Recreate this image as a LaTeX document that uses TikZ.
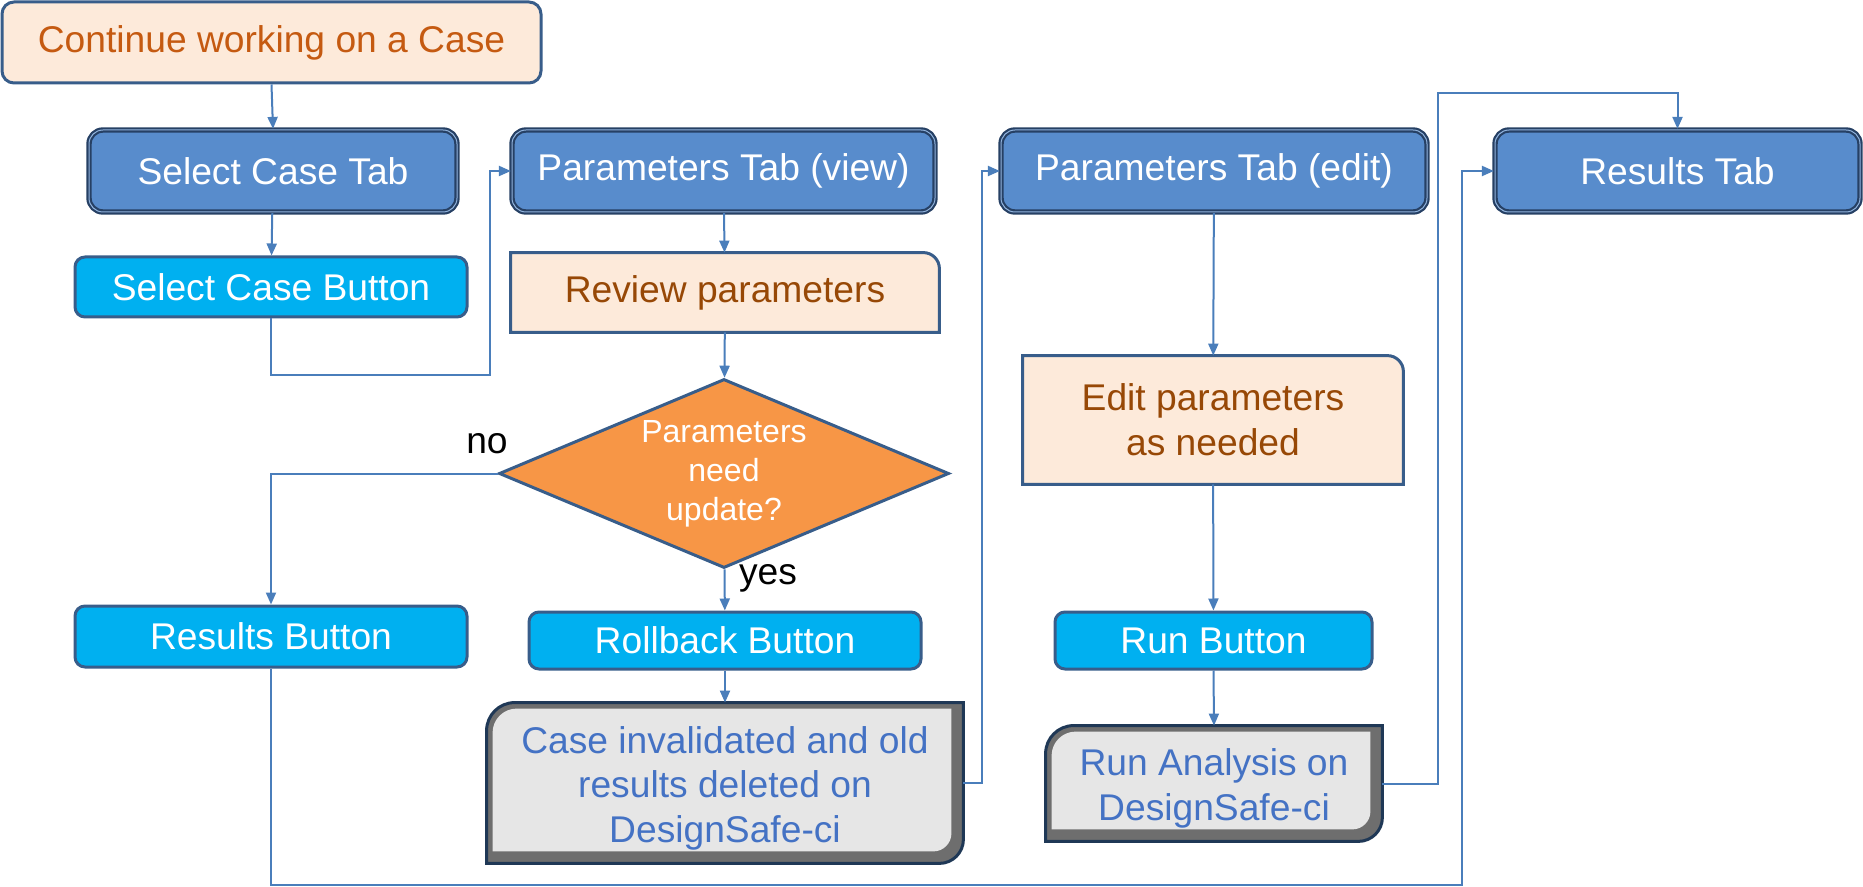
\documentclass[tikz,border=0pt]{standalone}
\usepackage{fontspec}
\setmainfont{Liberation Sans}
\usetikzlibrary{shapes.geometric,arrows.meta,backgrounds}

\definecolor{edgeblue}{RGB}{56,93,138}
\definecolor{linkblue}{RGB}{74,126,187}
\definecolor{tabfill}{RGB}{88,140,204}
\definecolor{tabdark}{RGB}{38,64,100}
\definecolor{btnfill}{RGB}{0,176,240}
\definecolor{peach}{RGB}{253,234,218}
\definecolor{rust}{RGB}{197,90,17}
\definecolor{brownish}{RGB}{151,72,6}
\definecolor{decfill}{RGB}{247,150,70}
\definecolor{srvface}{RGB}{230,230,230}
\definecolor{srvside}{RGB}{110,110,110}
\definecolor{srvedge}{RGB}{31,56,86}
\definecolor{srvtext}{RGB}{68,114,196}

\tikzset{
  base/.style={font=\fontsize{18.6}{22.3}\selectfont, align=center, inner sep=0pt},
  startbox/.style={base, fill=peach, draw=edgeblue, line width=1.5pt, rounded corners=6pt, text=rust},
  tab/.style={base, fill=tabfill, draw=tabdark, line width=1.1pt, double=tabfill!65!white, double distance=0.5pt, rounded corners=7pt, text=white},
  btn/.style={base, fill=btnfill, draw=edgeblue, line width=1.5pt, rounded corners=5pt, text=white},
  task/.style={base, text=brownish},
  server/.style={base, text=srvtext, yshift=-2.5pt},
  decision/.style={diamond, aspect=2.38, fill=decfill, draw=edgeblue, line width=1.5pt, inner sep=0pt, font=\fontsize{16}{19.5}\selectfont, align=center, text=white},
  link/.style={draw=linkblue, line width=1pt, -{Triangle[length=6pt,width=5pt]}},
  tag/.style={font=\fontsize{18.6}{22.3}\selectfont}
}

% outline with one rounded corner (top right)
\newcommand{\taskoutline}[1]{%
  \draw[fill=peach, draw=edgeblue, line width=1.5pt]
    (#1.south west) -- (#1.north west) -- ([xshift=-8pt]#1.north east)
    arc[start angle=90, end angle=0, radius=8pt] -- (#1.south east) -- cycle;}

% bevelled outline, rounded top left and bottom right (raised 2.5pt over the text)
\newcommand{\serveroutline}[1]{%
  \draw[fill=srvside, draw=srvedge, line width=1.5pt]
    ([yshift=-11.5pt]#1.north west) arc[start angle=180, end angle=90, radius=14pt]
    -- ([yshift=2.5pt]#1.north east) -- ([yshift=14.5pt]#1.south east)
    arc[start angle=0, end angle=-90, radius=12pt] -- ([yshift=2.5pt]#1.south west) -- cycle;
  \fill[srvface]
    ([xshift=3pt,yshift=-12.5pt]#1.north west) arc[start angle=180, end angle=90, radius=12pt]
    -- ([xshift=-6pt,yshift=-0.5pt]#1.north east) -- ([xshift=-6pt,yshift=17.5pt]#1.south east)
    arc[start angle=0, end angle=-90, radius=9pt] -- ([xshift=3pt,yshift=8.5pt]#1.south west) -- cycle;}

\begin{document}
\begin{tikzpicture}[x=0.5pt, y=0.5pt]
\useasboundingbox (0,0) rectangle (1863,-887);

% left column
\node[startbox, minimum width=269.5pt, minimum height=40.5pt] (start) at (271.5,-42.5) {Continue working on a Case};
\node[tab, minimum width=184pt, minimum height=41pt] (seltab) at (273,-171) {Select Case Tab};
\node[btn, minimum width=196pt, minimum height=30pt] (selbtn) at (271,-287) {Select Case Button};
\node[btn, minimum width=196pt, minimum height=30.5pt] (resbtn) at (271,-636.5) {Results Button};

% second column
\node[tab, minimum width=211.5pt, minimum height=41pt] (viewtab) at (723.5,-171) {Parameters Tab (view)};
\node[task, minimum width=214pt, minimum height=39.5pt] (review) at (725,-292.5) {Review parameters};
\node[decision, minimum width=225pt, minimum height=94.5pt] (decide) at (724,-473.5) {Parameters\\need\\update?};
\node[btn, minimum width=196pt, minimum height=28.5pt] (rollbtn) at (725,-640.5) {Rollback Button};
\node[server, minimum width=238pt, minimum height=80pt] (invalid) at (725,-783) {Case invalidated and old\\results deleted on\\DesignSafe-ci};

% third column
\node[tab, minimum width=213pt, minimum height=41pt] (edittab) at (1214,-171) {Parameters Tab (edit)};
\node[task, minimum width=190pt, minimum height=64pt] (editpar) at (1213,-420) {Edit parameters\\as needed};
\node[btn, minimum width=158.5pt, minimum height=28.5pt] (runbtn) at (1213.5,-640.5) {Run Button};
\node[server, minimum width=168pt, minimum height=57.5pt] (runana) at (1214,-783.5) {Run Analysis on\\DesignSafe-ci};

% last column
\node[tab, minimum width=182.5pt, minimum height=41pt] (restab) at (1677.5,-171) {Results Tab};

\node[tag] (nolbl) at (487,-444) {no};
\node[tag] (yeslbl) at (768,-578) {yes};

\begin{scope}[on background layer]
\taskoutline{review}
\taskoutline{editpar}
\serveroutline{invalid}
\serveroutline{runana}
\end{scope}

\coordinate (bendA) at (490,-375);
\coordinate (bendB) at (982,-171);
\coordinate (bendC) at (1438,-93);
\coordinate (bendD) at (1462,-885);

\draw[link] (start.south) -- (seltab.north);
\draw[link] (seltab) -- (selbtn);
\draw[link] (selbtn.south) |- (bendA) |- (viewtab.west);
\draw[link] (viewtab) -- (review);
\draw[link] (review) -- (decide);
\draw[link] (decide.west) -| (resbtn.north);
\draw[link] (decide) -- (rollbtn);
\draw[link] ([yshift=0pt]rollbtn.south) -- ([yshift=2.5pt]invalid.north);
\draw[link] ([yshift=2.5pt]invalid.east) -| (bendB) -- (edittab.west);
\draw[link] (edittab) -- (editpar);
\draw[link] (editpar) -- (runbtn);
\draw[link] (runbtn.south) -- ([yshift=2.5pt]runana.north);
\draw[link] ([yshift=2.5pt]runana.east) -| (bendC) -| (restab.north);
\draw[link] (resbtn.south) |- (bendD) |- (restab.west);
\end{tikzpicture}
\end{document}
